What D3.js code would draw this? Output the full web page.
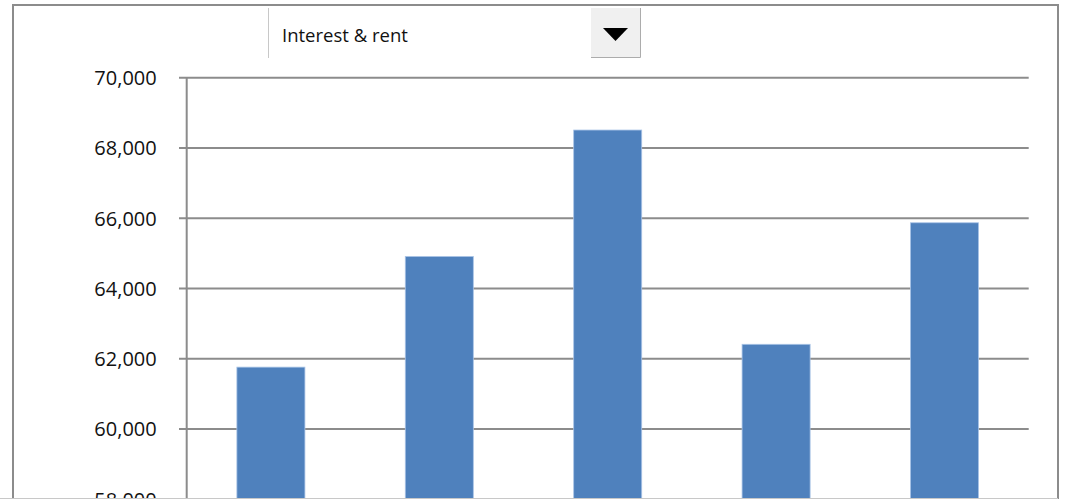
<!DOCTYPE html>
<html>
<head>
<meta charset="utf-8">
<script src="https://cdn.jsdelivr.net/npm/d3@7"></script>
<style>
  body { margin: 0; background: #fff; }
  svg { display: block; font-family: 'Open Sans', 'Noto Sans', sans-serif; }
  .grid line { stroke: #8c8c8c; stroke-width: 2; }
  .yaxis text { font-size: 20px; fill: #111; }
</style>
</head>
<body>
<script>
// chart data
const categories = ['2009', '2010', '2011', '2012', '2013']
const values = [61760, 64910, 68510, 62410, 65870]
const yTicks = [58000, 60000, 62000, 64000, 66000, 68000, 70000]
const selected = 'Interest & rent'

const width = 1067
const height = 499

const svg = d3.select('body')
  .append('svg')
  .attr('width', width)
  .attr('height', height)

// outer frame
svg.append('rect')
  .attr('x', 13).attr('y', 5)
  .attr('width', 1045).attr('height', 540)
  .attr('fill', '#fff')
  .attr('stroke', '#8c8c8c')
  .attr('stroke-width', 2)

const x = d3.scaleBand()
  .domain(categories)
  .range([186.7, 1028.7])
  .paddingInner(0.596)
  .paddingOuter(0.298)

const y = d3.scaleLinear()
  .domain([58000, 70000])
  .range([499.2, 77.7])

// gridlines
svg.append('g')
  .attr('class', 'grid')
  .selectAll('line')
  .data(yTicks)
  .join('line')
  .attr('x1', 179)
  .attr('x2', 1028.7)
  .attr('y1', d => y(d))
  .attr('y2', d => y(d))

// bars
svg.append('g')
  .selectAll('rect')
  .data(values)
  .join('rect')
  .attr('x', (d, i) => x(categories[i]))
  .attr('y', d => y(d))
  .attr('width', x.bandwidth())
  .attr('height', d => y(56000) - y(d))
  .attr('fill', '#4f81bd')
  .attr('stroke', '#a9c4e6')
  .attr('stroke-width', 0.8)

// y axis
const yAxis = svg.append('g')
  .attr('class', 'yaxis')
  .attr('transform', 'translate(186.7,0)')
  .call(d3.axisLeft(y).tickValues(yTicks).tickFormat(d3.format(',')).tickSize(0).tickPadding(30))
  .attr('font-family', null)
  .attr('font-size', null)

yAxis.select('.domain').remove()
yAxis.selectAll('text').attr('dy', '0.35em')

svg.append('line')
  .attr('x1', 186.7).attr('x2', 186.7)
  .attr('y1', 77.7).attr('y2', 540)
  .attr('stroke', '#8c8c8c')
  .attr('stroke-width', 2)

// bottom edge
svg.append('line')
  .attr('x1', 0).attr('x2', 1058)
  .attr('y1', 498.5).attr('y2', 498.5)
  .attr('stroke', '#c8c8c8')
  .attr('stroke-width', 1)

// dropdown
const dd = svg.append('g')
dd.append('rect')
  .attr('x', 268).attr('y', 8)
  .attr('width', 372).attr('height', 50)
  .attr('fill', '#fff')
dd.append('line')
  .attr('x1', 268.5).attr('x2', 268.5)
  .attr('y1', 8).attr('y2', 58)
  .attr('stroke', '#c8c8c8')
dd.append('rect')
  .attr('x', 591).attr('y', 8)
  .attr('width', 49).attr('height', 49)
  .attr('fill', '#f0f0f0')
dd.append('path')
  .attr('d', 'M591,57.5H640.5V8')
  .attr('fill', 'none')
  .attr('stroke', '#acacac')
dd.append('path')
  .attr('d', 'M603,28L628,28L615.5,41Z')
  .attr('fill', '#000')
dd.append('text')
  .attr('x', 282)
  .attr('y', 42)
  .attr('font-size', 18.5)
  .attr('fill', '#111')
  .text(selected)
</script>
</body>
</html>
